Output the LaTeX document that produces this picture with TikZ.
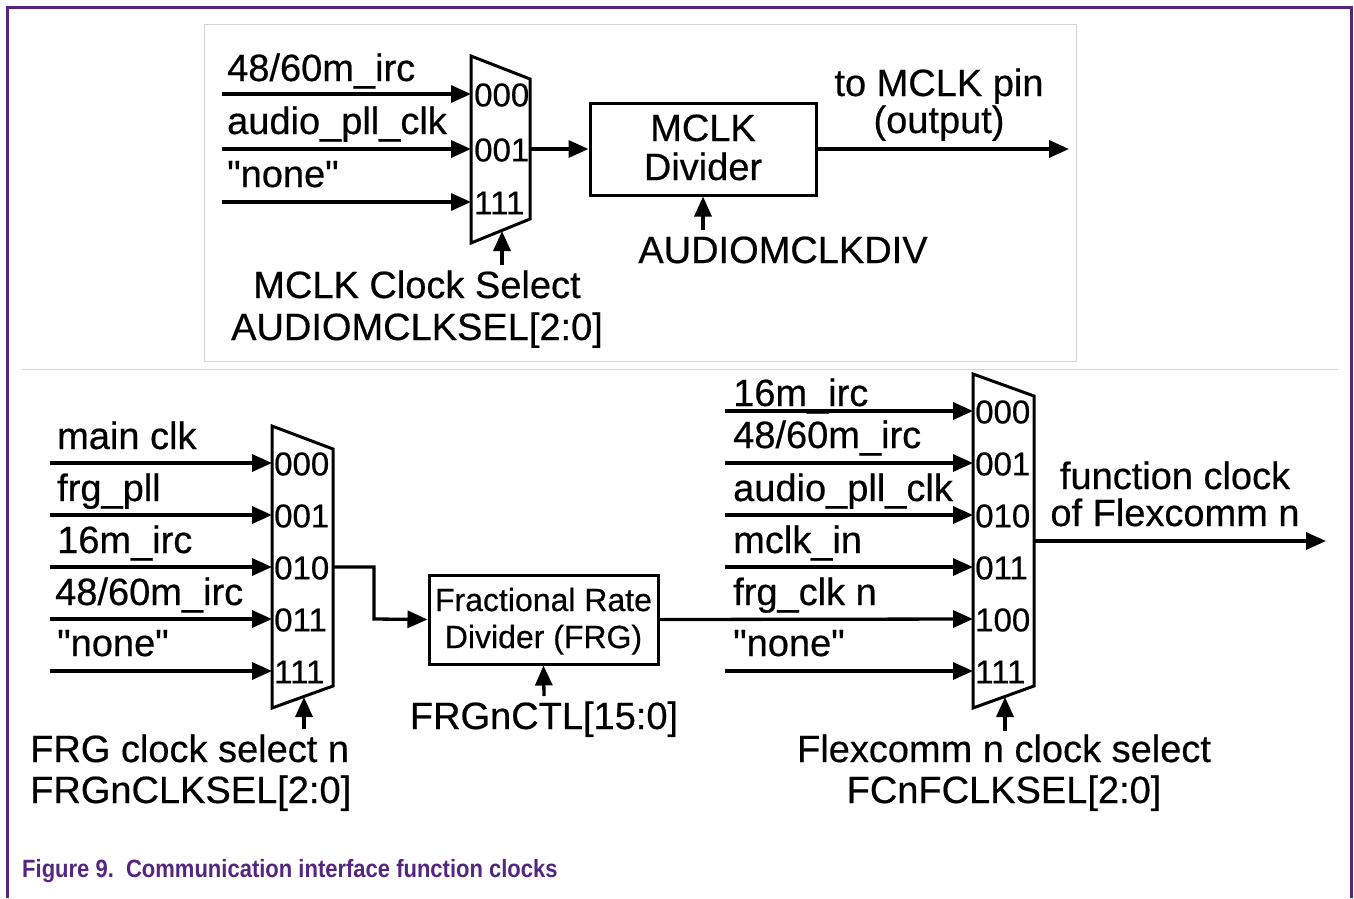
\documentclass[tikz,border=0pt]{standalone}
\usepackage{fontspec}
\setmainfont{Liberation Sans}[Ligatures=TeXOff,FakeBold=0.5]
\newfontfamily\capfont{Liberation Sans}[Ligatures=TeXOff]
\usetikzlibrary{arrows.meta}
\definecolor{nxppurple}{RGB}{84,38,128}
\definecolor{panelgray}{RGB}{212,212,212}
\newcommand{\qq}{\symbol{34}}
\begin{document}
\begin{tikzpicture}[x=1pt,y=-1pt,
  wire/.style={line width=3.3pt,-{Triangle[length=20pt,width=17pt]}},
  muxshape/.style={line width=3pt,line join=miter},
  boxshape/.style={draw,line width=3pt,inner sep=0pt},
  lbl/.style={anchor=base west,inner sep=0pt,font=\fontsize{38}{40}\selectfont},
  clbl/.style={anchor=base,inner sep=0pt,font=\fontsize{38}{40}\selectfont},
  muxlbl/.style={anchor=west,inner sep=0pt,font=\fontsize{33}{34}\selectfont},
]
\useasboundingbox (0,0) rectangle (1354,898);
% frame
\draw[nxppurple,line width=3pt] (7,898) -- (7,7) -- (1351,7) -- (1351,898);
\draw[panelgray,line width=1pt] (204,24) rectangle (1076,361);
\draw[panelgray,line width=1pt] (22,369) -- (1338,369);

% ================= top: MCLK =================
\draw[muxshape] (471,56) -- (530,79) -- (530,219) -- (471,243) -- cycle;
\coordinate (m1a) at (471,94);
\coordinate (m1b) at (471,149);
\coordinate (m1c) at (471,202);
\coordinate (m1o) at (530,149);
\coordinate (m1s) at (502,231);
\coordinate (s1a) at (222,94);
\coordinate (s1b) at (222,149);
\coordinate (s1c) at (222,202);
\node[lbl] (t1a) at (227,81) {48/60m\_irc};
\node[lbl] (t1b) at (227,134) {audio\_pll\_clk};
\node[lbl] (t1c) at (227,187) {\qq none\qq};
\draw[wire] (s1a) -- (m1a);
\draw[wire] (s1b) -- (m1b);
\draw[wire] (s1c) -- (m1c);
\node[muxlbl] (k1a) at (474,95) {000};
\node[muxlbl] (k1b) at (474,150) {001};
\node[muxlbl] (k1c) at (474,203) {111};

\node[boxshape,minimum width=226pt,minimum height=92pt] (mdiv) at (703,149) {};
\node[clbl] (mdivt1) at (703,141) {MCLK};
\node[clbl] (mdivt2) at (703,180) {Divider};
\draw[wire] (m1o) -- (mdiv.west);
\coordinate (mout) at (1069,149);
\draw[wire] (mdiv.east) -- (mout);
\node[clbl] (tomclk1) at (939,96) {to MCLK pin};
\node[clbl] (tomclk2) at (939,133) {(output)};

\coordinate (divsrc) at (703,230);
\draw[wire] (divsrc) -- (mdiv.south);
\node[clbl] (divt) at (783,263) {AUDIOMCLKDIV};

\coordinate (sel1src) at (502,265);
\draw[wire] (sel1src) -- (m1s);
\node[clbl] (sel1t1) at (417,298) {MCLK Clock Select};
\node[clbl] (sel1t2) at (417,340) {AUDIOMCLKSEL[2:0]};

% ================= bottom left: FRG select =================
\draw[muxshape] (272,426) -- (333,449) -- (333,686) -- (272,708) -- cycle;
\foreach \y/\n in {463/a,515/b,567/c,619/d,671/e}{
  \coordinate (m2\n) at (272,\y);
  \coordinate (s2\n) at (50,\y);
  \draw[wire] (s2\n) -- (m2\n);
}
\node[lbl] (t2a) at (57,449) {main clk};
\node[lbl] (t2b) at (57,501) {frg\_pll};
\node[lbl] (t2c) at (57,553) {16m\_irc};
\node[lbl] (t2d) at (55,605) {48/60m\_irc};
\node[lbl] (t2e) at (57,656) {\qq none\qq};
\node[muxlbl] (k2a) at (274,464) {000};
\node[muxlbl] (k2b) at (274,516) {001};
\node[muxlbl] (k2c) at (274,568) {010};
\node[muxlbl] (k2d) at (274,620) {011};
\node[muxlbl] (k2e) at (274,672) {111};
\coordinate (m2o) at (333,567);
\coordinate (m2s) at (304,697);

\node[boxshape,minimum width=229pt,minimum height=89pt] (frg) at (543.5,619.5) {};
\node[anchor=base,inner sep=0pt,font=\fontsize{32}{34}\selectfont] (frgt1) at (543.5,611) {Fractional Rate};
\node[anchor=base,inner sep=0pt,font=\fontsize{32}{34}\selectfont] (frgt2) at (543.5,648) {Divider (FRG)};
\draw[wire] (m2o) -- (374,567) -- (374,619) -- (frg.west);

\coordinate (frgsrc) at (544,696);
\draw[wire] (frgsrc) -- (frg.south);
\node[clbl] (frgctl) at (544,729) {FRGnCTL[15:0]};

\coordinate (sel2src) at (304,729);
\draw[wire] (sel2src) -- (m2s);
\node[lbl] (sel2t1) at (30,762) {FRG clock select n};
\node[lbl] (sel2t2) at (30,803) {FRGnCLKSEL[2:0]};

% ================= bottom right: Flexcomm select =================
\draw[muxshape] (973,374) -- (1034,396) -- (1034,686) -- (973,708) -- cycle;
\foreach \y/\n in {411/a,463/b,515/c,567/d,619/e,671/f}{
  \coordinate (m3\n) at (973,\y);
}
\foreach \y/\n in {411/a,463/b,515/c,567/d,671/f}{
  \coordinate (s3\n) at (725,\y);
  \draw[wire] (s3\n) -- (m3\n);
}
\draw[wire] (frg.east) -- (m3e);
\node[lbl] (t3a) at (733,406) {16m\_irc};
\node[lbl] (t3b) at (733,448) {48/60m\_irc};
\node[lbl] (t3c) at (733,501) {audio\_pll\_clk};
\node[lbl] (t3d) at (733,553) {mclk\_in};
\node[lbl] (t3e) at (733,605) {frg\_clk n};
\node[lbl] (t3f) at (733,656) {\qq none\qq};
\node[muxlbl] (k3a) at (975,412) {000};
\node[muxlbl] (k3b) at (975,464) {001};
\node[muxlbl] (k3c) at (975,516) {010};
\node[muxlbl] (k3d) at (975,568) {011};
\node[muxlbl] (k3e) at (975,620) {100};
\node[muxlbl] (k3f) at (975,672) {111};
\coordinate (m3o) at (1034,541);
\coordinate (fout) at (1326,541);
\draw[wire] (m3o) -- (fout);
\node[clbl] (fct1) at (1175,489) {function clock};
\node[clbl] (fct2) at (1175,526) {of Flexcomm n};

\coordinate (m3s) at (1005,697);
\coordinate (sel3src) at (1005,731);
\draw[wire] (sel3src) -- (m3s);
\node[clbl] (sel3t1) at (1004,762) {Flexcomm n clock select};
\node[clbl] (sel3t2) at (1004,803) {FCnFCLKSEL[2:0]};

% caption
\node[anchor=base west,inner sep=0pt,text=nxppurple,font=\capfont\fontsize{25}{28}\selectfont\bfseries] (cap) at (22,877) {\scalebox{0.88}[1]{Figure 9.\ \ Communication interface function clocks}};
\end{tikzpicture}
\end{document}
